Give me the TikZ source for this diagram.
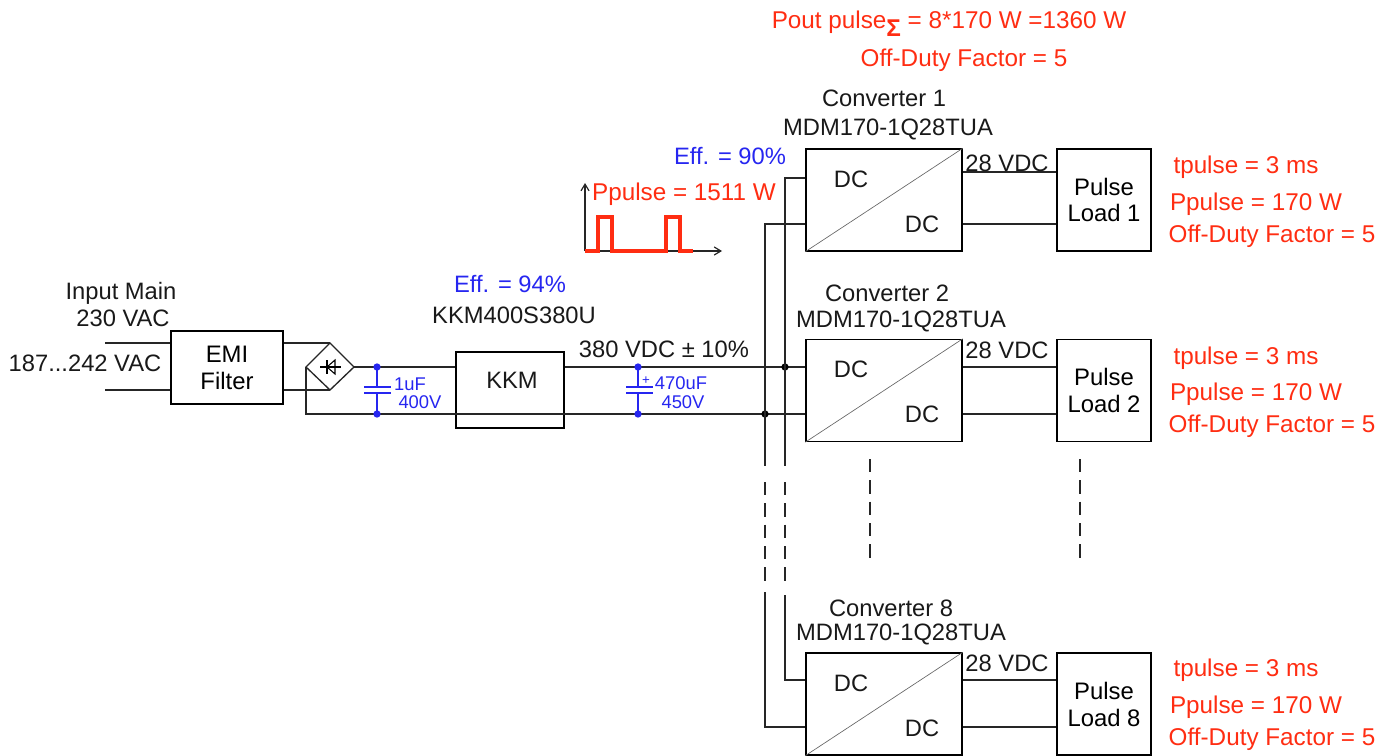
\documentclass[tikz,border=0pt]{standalone}
\usepackage{fontspec}
\usetikzlibrary{arrows.meta}
\setmainfont{Liberation Sans}
\definecolor{redt}{HTML}{FF2D12}
\definecolor{bluet}{HTML}{2626F0}
\tikzset{
 x=0.75pt,y=-0.75pt,
 wire/.style={line width=1pt,draw=black!85},
 blockbox/.style={draw=black,line width=1pt,fill=none,inner sep=0pt,align=center,font=\fontsize{17.9}{20.2}\selectfont},
 lab/.style={inner sep=0pt,font=\fontsize{17.8}{20}\selectfont,text=black!90},
 redl/.style={inner sep=0pt,font=\fontsize{18.2}{20}\selectfont,text=redt},
 bluel/.style={lab,text=bluet},
 smallblue/.style={inner sep=0pt,font=\fontsize{13.8}{15}\selectfont,text=bluet},
 dot/.style={circle,fill=#1,inner sep=0pt,minimum size=5.5pt},
 dot/.default=bluet,
 capw/.style={line width=1pt,draw=bluet},
 dash14/.style={wire,dash pattern=on 10pt off 6pt},
}
\newcommand{\blk}[6]{\node[blockbox,minimum width=#4*0.75pt,minimum height=#5*0.75pt] (#1) at (#2,#3) {#6};}
\begin{document}
\begin{tikzpicture}
\useasboundingbox (0,0) rectangle (1392,756);
% blocks
\blk{emi}{227}{367.5}{112}{73}{EMI\\Filter}
\blk{kkm}{510}{390}{108}{76}{}
\node[lab] (kkmt) at (512,380) {KKM};
\foreach \n/\cy in {1/200,2/390.5,8/704}{
  \blk{conv\n}{884}{\cy}{156}{102}{}
  \blk{load\n}{1104}{\cy}{94}{102}{Pulse\\Load \n}
  \draw[line width=0.5pt,draw=black!60] (conv\n.south west) -- (conv\n.north east);
  \node[lab] (dca\n) at (851,\cy-21) {DC};
  \node[lab] (dcb\n) at (922,\cy+24) {DC};
}
% bridge
\coordinate (bt) at (330,343);\coordinate (bb) at (330,390);\coordinate (bl) at (306,367);\coordinate (br) at (354,367);
\draw[wire] (bt) -- (br) -- (bb) -- (bl) -- cycle;
\coordinate (d1) at (320,367);\coordinate (d2) at (341,367);
\draw[line width=0.8pt] (d1) -- (d2);
\draw[line width=0.8pt] (327,360) -- (327,374);
\draw[line width=0.8pt] (335,360) -- (327,367) -- (335,374) -- cycle;
% input wires
\coordinate (ina) at (105,343);\coordinate (inb) at (105,390);
\draw[wire] (ina) -- (emi.west |- ina);
\draw[wire] (inb) -- (emi.west |- inb);
\draw[wire] (emi.east |- bt) -- (bt);
\draw[wire] (emi.east |- bb) -- (bb);
% rails
\coordinate (jt) at (785,367);\coordinate (jb) at (765,414);
\coordinate (c1t) at (377,367);\coordinate (c1b) at (377,414);
\coordinate (c2t) at (638,367);\coordinate (c2b) at (638,414);
\draw[wire] (br) -- (kkm.west |- br);
\draw[wire] (bl) -- (bl |- jb) -- (conv2.west |- jb);
\draw[wire] (kkm.east |- br) -- (conv2.west |- jt);
\node[dot=black] (jtd) at (jt) {};
\node[dot=black] (jbd) at (jb) {};
% buses
\coordinate (t1) at (785,178);\coordinate (b1) at (765,224);
\coordinate (t8) at (785,680);\coordinate (b8) at (765,727);
\coordinate (ts) at (785,466);\coordinate (bs) at (765,466);
\coordinate (tda) at (785,482);\coordinate (tdb) at (785,581);
\coordinate (bda) at (765,482);\coordinate (bdb) at (765,581);
\coordinate (tr) at (785,595);\coordinate (br8) at (765,592);
\draw[wire] (conv1.west |- t1) -- (t1) -- (ts);
\draw[wire] (conv1.west |- b1) -- (b1) -- (bs);
\draw[dash14] (tda) -- (tdb);
\draw[dash14] (bda) -- (bdb);
\draw[wire] (tr) -- (t8) -- (conv8.west |- t8);
\draw[wire] (br8) -- (b8) -- (conv8.west |- b8);
% outputs
\foreach \n/\ya/\yb in {1/172/224,2/367/414,8/680/727}{
  \draw[wire] (conv\n.east |- 0,\ya) -- (load\n.west |- 0,\ya);
  \draw[wire] (conv\n.east |- 0,\yb) -- (load\n.west |- 0,\yb);
}
% dashed continuation
\coordinate (va) at (870,459);\coordinate (vb) at (870,558);
\coordinate (vc) at (1080,459);\coordinate (vd) at (1080,558);
\draw[dash14] (va) -- (vb);
\draw[dash14] (vc) -- (vd);
% caps
\draw[capw] (c1t) -- (377,387);
\draw[capw] (377,393) -- (c1b);
\draw[capw] (364,387) -- (391,387);
\draw[capw] (364,393) -- (391,393);
\node[dot] (c1td) at (c1t) {};\node[dot] (c1bd) at (c1b) {};
\draw[capw] (c2t) -- (638,387);
\draw[capw] (638,393) -- (c2b);
\draw[capw] (626,387) -- (653,387);
\draw[capw] (626,393) -- (653,393);
\node[dot] (c2td) at (c2t) {};\node[dot] (c2bd) at (c2b) {};
\node[smallblue] (c1a) at (410,384) {1uF};
\node[smallblue] (c1v) at (420,402) {400V};
\node[smallblue,font=\fontsize{10}{12}\selectfont] (c2p) at (646,381) {+};
\node[smallblue] (c2a) at (681,383) {470uF};
\node[smallblue] (c2v) at (683,402) {450V};
% pulse graph
\coordinate (o) at (585,251);\coordinate (yt) at (585,183);\coordinate (xr) at (722,251);
\draw[line width=0.9pt,draw=black!85,-{Straight Barb[length=5pt,width=6pt]}] (o) -- (yt);
\draw[line width=0.9pt,draw=black!85,-{Straight Barb[length=5pt,width=6pt]}] (o) -- (xr);
\draw[draw=redt,line width=2.8pt] (o) -- (598,251) -- (598,217) -- (612,217) -- (612,251) -- (666,251) -- (666,217) -- (680,217) -- (680,251) -- (693,251);
% labels
\node[redl] (pout) at (949,22) {Pout pulse\smash{\raisebox{-6pt}{\textbf{Σ}}} = 8*170 W =1360 W};
\node[redl] (odf) at (964,60) {Off-Duty Factor = 5};
\node[lab] (n1a) at (884,98) {Converter 1};
\node[lab] (n1b) at (888,129) {MDM170-1Q28TUA};
\node[bluel] (e90) at (730,156) {Eff. = 90\%};
\node[redl] (pp) at (684,194) {Ppulse = 1511 W};
\node[bluel] (e94) at (510,284) {Eff. = 94\%};
\node[lab] (km) at (514,315) {KKM400S380U};
\node[lab] (im) at (121,293) {Input Main};
\node[lab] (iv) at (123,318) {230 VAC};
\node[lab] (ir) at (85,363) {187...242 VAC};
\node[lab] (v380) at (664,349) {380 VDC ± 10\%};
\node[lab] (n2a) at (887,293) {Converter 2};
\node[lab] (n2b) at (901,321) {MDM170-1Q28TUA};
\node[lab] (n8a) at (891,608) {Converter 8};
\node[lab] (n8b) at (901,634) {MDM170-1Q28TUA};
\foreach \n/\yv/\ya/\yb/\yc in {1/163/167/204/236,2/350/358/394/426,8/663/670/707/739}{
  \node[lab] (vd\n) at (1007,\yv) {28 VDC};
  \node[redl] (tp\n) at (1246,\ya) {tpulse = 3 ms};
  \node[redl] (pw\n) at (1256,\yb) {Ppulse = 170 W};
  \node[redl] (of\n) at (1272,\yc) {Off-Duty Factor = 5};
}
\end{tikzpicture}
\end{document}
